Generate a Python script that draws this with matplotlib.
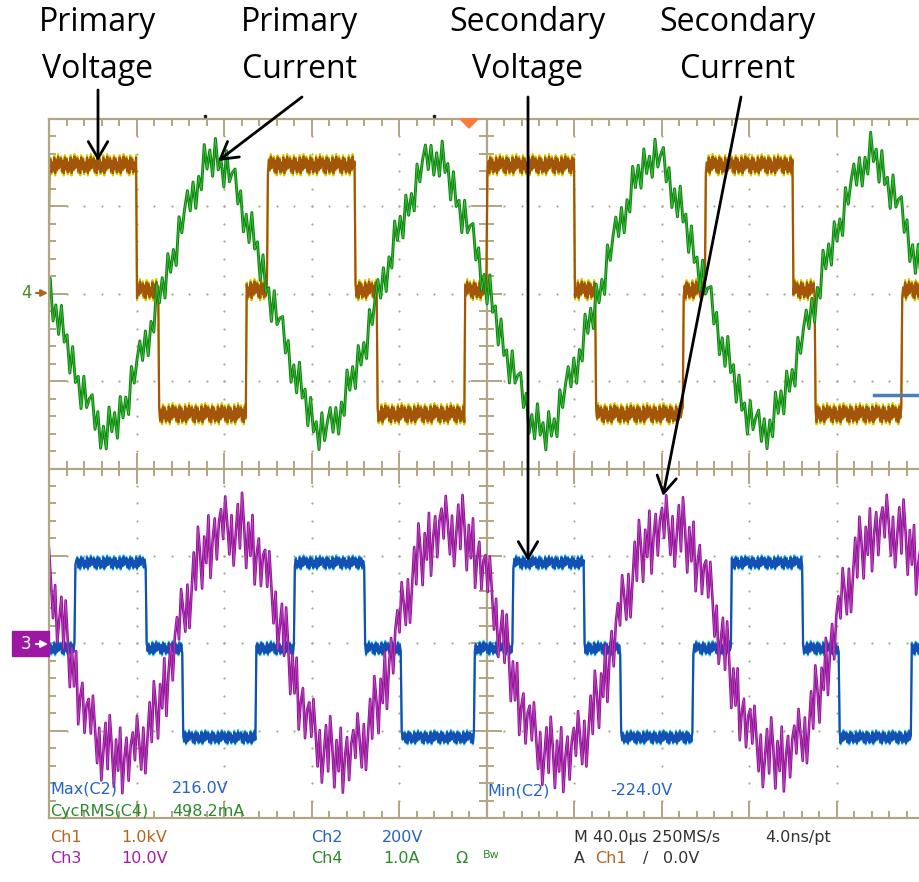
import numpy as np
import matplotlib.pyplot as plt
from matplotlib.patches import Polygon, Rectangle

# ---- values (units: divisions, 40 us/div) ----
period = 2.5

# Ch1 primary voltage: plateau levels and edge times of one period
ch1_levels = [3.47, 2.04, 0.62, 2.04]      # high, zero, low, zero
ch1_edges = [0.0, 1.0, 1.25, 2.25, 2.5]

# Ch2 secondary voltage
ch2_levels = [-1.08, -2.06, -3.08, -2.06]
ch2_edges = [0.3, 1.11, 1.53, 2.36, 2.8]

# Ch4 primary current: trace centre every 0.125 div from the rising zero crossing
ch4_ref = 2.0
ch4_start = 1.275
ch4_shape = [0.0, 0.42, 0.8, 1.15, 1.45, 1.6, 1.45, 1.15, 0.8, 0.42,
             0.0, -0.42, -0.8, -1.15, -1.45, -1.6, -1.45, -1.15, -0.8, -0.42]

# Ch3 secondary current, from the falling zero crossing
ch3_ref = -2.0
ch3_start = 0.2
ch3_shape = [0.0, -0.5, -0.88, -1.12, -1.28, -1.32, -1.28, -1.12, -0.88, -0.5,
             0.0, 0.5, 0.88, 1.12, 1.28, 1.32, 1.28, 1.12, 0.88, 0.5]

# switching ripple riding on the traces (div)
sq_ripple = [0.08, -0.07, 0.05, -0.09, 0.09, -0.04, 0.07, -0.08, 0.03, -0.06,
             0.09, -0.09, 0.06, -0.05, 0.1, -0.03, 0.04]
ch4_ripple = [0.22, -0.1, 0.14, -0.24, 0.05, -0.18, 0.26, -0.06, 0.12, -0.22,
              0.18, -0.14, 0.02, -0.26, 0.2, -0.08, 0.1]
ch3_ripple = [0.25, -0.1, 0.38, 0.05, -0.3, 0.15, -0.42, -0.05, 0.3, -0.2,
              0.45, 0.1, -0.35, 0.2, -0.15, 0.35, -0.4, 0.0, 0.22, -0.28, 0.12]

# readouts under the screen
readouts = [
    ("Max(C2)", 50, 793, '#2563c6'), ("216.0V", 172, 793, '#2563c6'),
    ("CycRMS(C4)", 50, 816, '#2b8a2b'), ("498.2mA", 172, 816, '#2b8a2b'),
    ("Min(C2)", 487, 795, '#2563c6'), ("-224.0V", 610, 795, '#2563c6'),
    ("Ch1", 50, 842, '#b5651d'), ("1.0kV", 121, 842, '#b5651d'),
    ("Ch3", 50, 863, '#a21fa8'), ("10.0V", 121, 863, '#a21fa8'),
    ("Ch2", 311, 842, '#2563c6'), ("200V", 382, 842, '#2563c6'),
    ("Ch4", 311, 863, '#2b8a2b'), ("1.0A", 383, 863, '#2b8a2b'),
    ("\u03a9", 455, 863, '#2b8a2b'),
    ("M 40.0\u00b5s 250MS/s", 574, 842, '#333333'), ("4.0ns/pt", 765, 842, '#333333'),
    ("A", 574, 863, '#333333'), ("Ch1", 595, 863, '#b5651d'),
    ("/", 643, 863, '#333333'), ("0.0V", 663, 863, '#333333'),
]

labels = [("Primary", "Voltage", 98), ("Primary", "Current", 300),
          ("Secondary", "Voltage", 527), ("Secondary", "Current", 737)]
arrows = [((98, 90), (98, 161)), ((302, 97), (218, 161)),
          ((528, 97), (528, 561)), ((741, 97), (663, 496))]


def square(t, edges, levels):
    ph = (t - edges[0]) % period + edges[0]
    idx = np.clip(np.searchsorted(edges, ph, side='right') - 1, 0, len(levels) - 1)
    return np.array(levels)[idx]


def periodic(t, start, shape, step=0.125):
    ph = (t - start) % period
    xs = np.arange(len(shape) + 1) * step
    return np.interp(ph, xs, shape + [shape[0]])


grid_c = '#b0a683'
fig = plt.figure(figsize=(9.19, 8.82), dpi=100)
ax = fig.add_axes([49 / 919, 64 / 882, 870 / 919, 699 / 882])
ax.set_xlim(0, 870 / 87.5)
ax.set_ylim(-4, 4)
ax.set_xticks([])
ax.set_yticks([])
ax.spines['right'].set_visible(False)
for s in ['left', 'top', 'bottom']:
    ax.spines[s].set_color(grid_c)
    ax.spines[s].set_linewidth(1.6)

# graticule
for k in range(51):
    x = k * 0.2
    L = 0.2 if k % 5 == 0 else 0.08
    ax.vlines(x, 4 - L, 4, color=grid_c, lw=1.4)
    ax.vlines(x, -4, -4 + L, color=grid_c, lw=1.4)
    c = 0.18 if k % 5 == 0 else 0.09
    ax.vlines(x, -c, c, color=grid_c, lw=1.4)
for k in range(41):
    y = k * 0.2 - 4
    L = 0.2 if k % 5 == 0 else 0.08
    ax.hlines(y, 0, L, color=grid_c, lw=1.4)
    c = 0.18 if k % 5 == 0 else 0.09
    ax.hlines(y, 5 - c, 5 + c, color=grid_c, lw=1.4)
ax.axhline(0, color=grid_c, lw=1.6)
ax.axvline(5, color=grid_c, lw=1.6)
for i in range(1, 10):
    if i != 5:
        ys = np.arange(1, 40) * 0.2 - 4
        ax.plot(np.full(len(ys), i), ys, 'o', ms=1.6, mec='none', color=grid_c)
for j in range(-3, 4):
    if j != 0:
        xs = np.arange(1, 50) * 0.2
        ax.plot(xs, np.full(len(xs), j), 'o', ms=1.6, mec='none', color=grid_c)

# square-wave voltages
t = np.arange(-0.05, 10.05, 0.011)
r = np.resize(sq_ripple, len(t))
v1 = square(t, ch1_edges, ch1_levels)
ax.plot(t, v1 + 1.3 * r, color='#d8cc00', lw=1.5)
ax.plot(t, v1 + r, color='#a3560a', lw=1.6)
v2 = square(t, ch2_edges, ch2_levels)
ax.plot(t, v2 + 0.9 * r, color='#3ad0e6', lw=1.4)
ax.plot(t, v2 + 0.7 * r, color='#1450b4', lw=1.6)

# currents
t4 = np.arange(-0.05, 10.05, 0.032)
i4 = ch4_ref + periodic(t4, ch4_start, ch4_shape) + np.resize(ch4_ripple, len(t4))
ax.plot(t4, i4, color='#128212', lw=2.1)
ax.plot(t4, i4, color='#3fd03f', lw=0.5)

t3 = np.arange(-0.05, 10.05, 0.024)
i3 = ch3_ref + periodic(t3, ch3_start, ch3_shape) + np.resize(ch3_ripple, len(t3))
ax.plot(t3, i3, color='#951399', lw=1.9)
ax.plot(t3, i3, color='#c55acb', lw=0.4)

# overlay in pixel coordinates for text, markers and arrows
ov = fig.add_axes([0, 0, 1, 1])
ov.set_xlim(0, 919)
ov.set_ylim(882, 0)
ov.axis('off')
ov.patch.set_visible(False)

for txt, x, y, col in readouts:
    ov.text(x, y, txt, color=col, fontsize=11.5, family='DejaVu Sans', va='baseline', ha='left')
ov.text(483, 858, "Bw", color='#2b8a2b', fontsize=8, va='baseline', ha='left')

# channel markers
ov.text(27, 293, "4", color='#4a8a2a', fontsize=12, ha='center', va='center')
ov.annotate('', xy=(48, 293), xytext=(36, 293),
            arrowprops=dict(arrowstyle='-|>,head_length=0.4,head_width=0.2',
                            color='#b0601a', lw=1.5, shrinkA=0, shrinkB=0))
ov.add_patch(Rectangle((12, 631), 37, 25, color='#9c17a3'))
ov.text(26, 644, "3", color='white', fontsize=12, ha='center', va='center')
ov.annotate('', xy=(48, 644), xytext=(36, 644),
            arrowprops=dict(arrowstyle='-|>,head_length=0.4,head_width=0.2',
                            color='white', lw=1.5, shrinkA=0, shrinkB=0))
ov.add_patch(Polygon([(460, 119), (478, 119), (469, 128)], color='#ff7a3a'))
ov.plot([205, 434], [116, 116], 's', ms=1.5, color='#222222')
ov.plot([874, 919], [395, 395], color='#4a7ebb', lw=2.5)

for top, bottom, x in labels:
    ov.text(x, 31, top, fontsize=23, family='Open Sans', ha='center', va='baseline')
    ov.text(x, 78, bottom, fontsize=23, family='Open Sans', ha='center', va='baseline')
for start, tip in arrows:
    ov.annotate('', xy=tip, xytext=start,
                arrowprops=dict(arrowstyle='->,head_length=0.6,head_width=0.35',
                                mutation_scale=20, color='black', lw=2.0,
                                shrinkA=0, shrinkB=0))

fig.savefig('out.png', dpi=100)
